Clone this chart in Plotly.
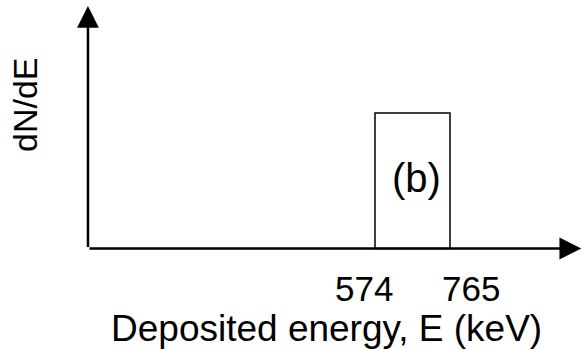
import plotly.graph_objects as go

# Schematic deposited-energy spectrum: a flat box between two energies
edge_energies = [574, 765]          # keV, box edges
edge_labels = ["574", "765"]
box_height = [1.0]                  # dN/dE, arbitrary units
panel_label = "(b)"
x_title = "Deposited energy, E (keV)"
y_title = "dN/dE"

W, H = 582, 350
FONT = "Liberation Sans, Arial, sans-serif"

# Axis windows (energy in keV, dN/dE in arbitrary units)
x_range = [-381.0, 1101.2]
y_range = [-0.749, 1.834]
axis_origin_E = -157.0
x_arrow_tip = 1099.5
y_arrow_tip = 1.79

fig = go.Figure()

centre = (edge_energies[0] + edge_energies[1]) / 2
width = edge_energies[1] - edge_energies[0]
fig.add_trace(go.Bar(
    x=[centre], y=box_height, width=[width], base=[0],
    marker=dict(color="white", line=dict(color="black", width=1.5)),
    hoverinfo="skip", showlegend=False,
))

# Axis arrows drawn from the origin in data coordinates
arrow_style = dict(text="", showarrow=True, arrowhead=2, arrowsize=1.75,
                   arrowwidth=2.5, arrowcolor="black",
                   xref="x", yref="y", axref="x", ayref="y")
fig.add_annotation(x=axis_origin_E, y=y_arrow_tip,
                   ax=axis_origin_E, ay=0, **arrow_style)
fig.add_annotation(x=x_arrow_tip, y=0,
                   ax=axis_origin_E, ay=0, **arrow_style)

# Edge energy labels under the axis
for e, lab, dx in zip(edge_energies, edge_labels, [-11, 21.5]):
    fig.add_annotation(
        x=e, y=0, xref="x", yref="y", text=lab, showarrow=False,
        xanchor="center", yanchor="top", xshift=dx, yshift=-18,
        font=dict(family=FONT, size=35, color="black"),
    )

fig.add_annotation(
    x=centre, y=box_height[0] / 2, xref="x", yref="y", text=panel_label,
    showarrow=False, xshift=4.5, yshift=3,
    font=dict(family=FONT, size=40, color="black"),
)

fig.add_annotation(
    x=326.5 / W, y=1 - 328 / H, xref="paper", yref="paper", text=x_title,
    showarrow=False, xanchor="center", yanchor="middle",
    font=dict(family=FONT, size=37, color="black"),
)
fig.add_annotation(
    x=25 / W, y=1 - 105 / H, xref="paper", yref="paper", text=y_title,
    showarrow=False, textangle=-90, xanchor="center", yanchor="middle",
    font=dict(family=FONT, size=34, color="black"),
)

fig.update_xaxes(range=x_range, visible=False, fixedrange=True)
fig.update_yaxes(range=y_range, visible=False, fixedrange=True)
fig.update_layout(
    width=W, height=H, margin=dict(l=0, r=0, t=0, b=0),
    paper_bgcolor="white", plot_bgcolor="white",
)

fig.write_html("out.html")
